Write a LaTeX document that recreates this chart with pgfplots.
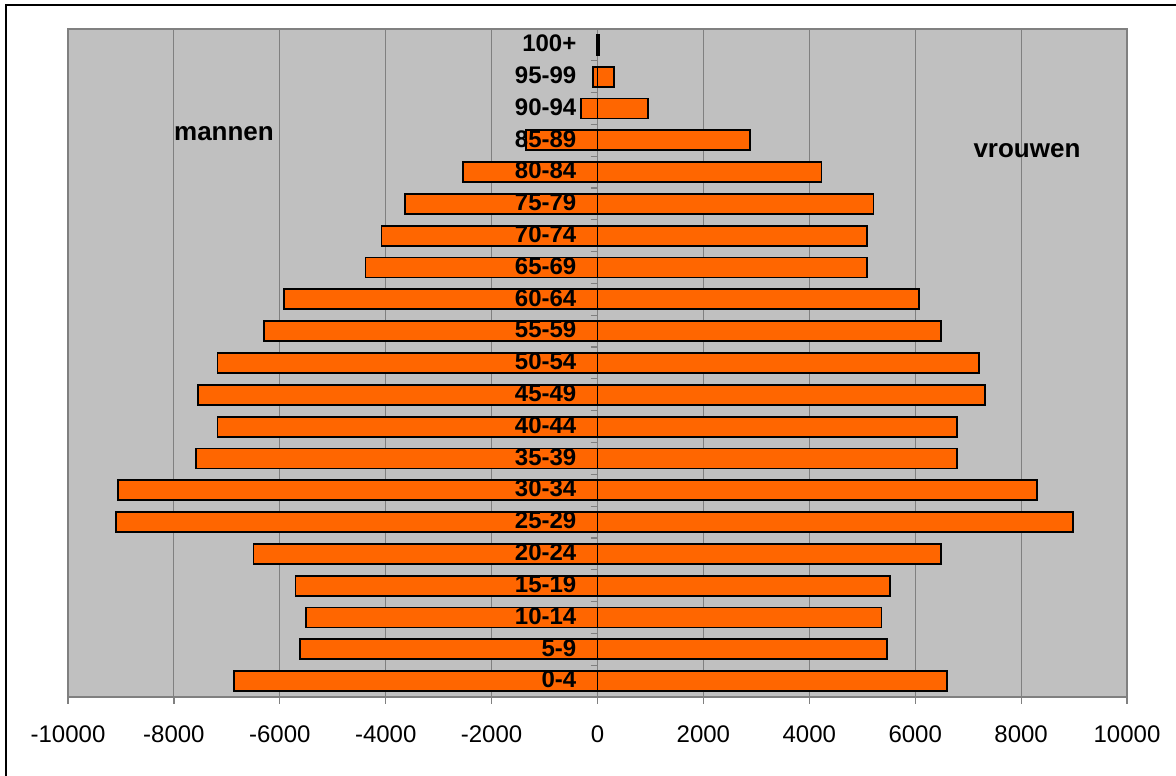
\documentclass[border=0pt]{standalone}
\usepackage{pgfplots}
\pgfplotsset{compat=1.18}
\usepackage{pgfplotstable}
\usepackage{fontspec}
\setmainfont{Liberation Sans}
\definecolor{plotbg}{HTML}{C0C0C0}
\definecolor{gridc}{HTML}{808080}
\definecolor{barc}{HTML}{FF6600}
\pgfplotstableread{
y men women
0 -6866 6607
1 -5625 5474
2 -5509 5363
3 -5704 5519
4 -6498 6489
5 -9097 8978
6 -9061 8303
7 -7588 6794
8 -7177 6794
9 -7552 7321
10 -7177 7206
11 -6303 6491
12 -5928 6072
13 -4383 5097
14 -4079 5097
15 -3632 5213
16 -2534 4231
17 -1357 2874
18 -310 953
19 -87 310
20 -5 30
}\pyramid
\begin{document}
\begin{tikzpicture}[x=1bp,y=1bp]
\path[use as bounding box] (0,0) rectangle (1176,776);
\draw[line width=2.4bp] (6,-10) -- (6,771) -- (1190,771);
\begin{axis}[
  at={(68bp,79bp)}, anchor=south west,
  scale only axis, width=1059bp, height=668bp,
  xmin=-10000, xmax=10000, ymin=-0.5, ymax=20.5,
  axis x line=bottom, axis y line=center,
  x axis line style={-, draw=gridc, line width=1.5bp},
  y axis line style={-, draw=gridc, line width=1.5bp},
  axis background/.style={fill=plotbg, draw=gridc, line width=1.8bp},
  scaled x ticks=false,
  xtick={-10000,-8000,-6000,-4000,-2000,0,2000,4000,6000,8000,10000},
  xticklabels={-10000,-8000,-6000,-4000,-2000,0,2000,4000,6000,8000,10000},
  xmajorgrids, major grid style={draw=gridc, line width=1bp},
  tick align=outside,
  major tick length=7bp, minor tick length=7bp,
  tick style={draw=gridc, line width=1.2bp},
  ytick={0,...,20}, yticklabels={},
  minor ytick={-0.5,0.5,...,20.5},
  major y tick style={draw=none},
  xticklabel style={font=\fontsize{24bp}{28bp}\selectfont, inner sep=0pt, anchor=north, yshift=-22bp},
  clip=false,
]
\addplot[xbar, bar width=20bp, bar shift=0pt, fill=barc, draw=black, line width=1.8bp] table[x=men, y=y] {\pyramid};
\addplot[xbar, bar width=20bp, bar shift=0pt, fill=barc, draw=black, line width=1.8bp] table[x=women, y=y] {\pyramid};
\node[font=\fontsize{26bp}{30bp}\selectfont\bfseries] at (axis cs:-7054,17.22) {mannen};
\node[font=\fontsize{26bp}{30bp}\selectfont\bfseries] at (axis cs:8111,16.69) {vrouwen};
\end{axis}
% overlay axis carrying only the category tick labels, drawn above the bars
\begin{axis}[
  at={(68bp,79bp)}, anchor=south west,
  scale only axis, width=1059bp, height=668bp,
  xmin=-10000, xmax=10000, ymin=-0.5, ymax=20.5,
  axis x line=none, axis y line=center,
  y axis line style={draw=none},
  xtick=\empty,
  ytick={0,...,20},
  yticklabels={0-4,5-9,10-14,15-19,20-24,25-29,30-34,35-39,40-44,45-49,50-54,55-59,60-64,65-69,70-74,75-79,80-84,85-89,90-94,95-99,100+},
  major tick length=0pt, y tick style={draw=none},
  yticklabel style={font=\fontsize{24bp}{28bp}\selectfont\bfseries, inner sep=0pt, anchor=east, xshift=-21bp, yshift=1.5bp},
]
\end{axis}
\end{tikzpicture}
\end{document}
